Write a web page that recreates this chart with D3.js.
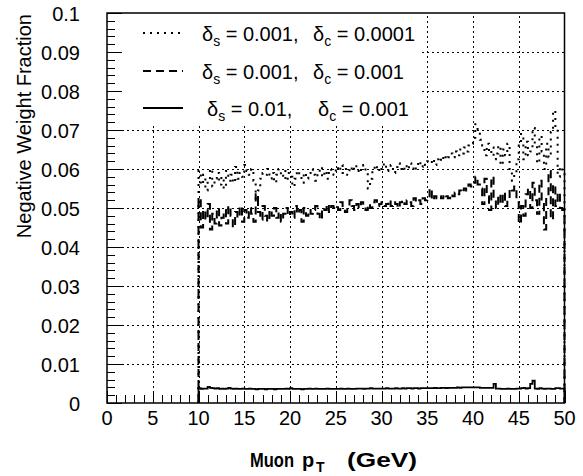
<!DOCTYPE html>
<html><head><meta charset="utf-8">
<script src="https://cdn.jsdelivr.net/npm/d3@7"></script>
<style>body{margin:0;background:#fff} text{font-family:"Liberation Sans", Arial, Helvetica, sans-serif; fill:#000}</style>
</head><body><svg id="c" width="583" height="476"></svg>
<script>
// histogram binning (GeV)
const binStart = 10, binWidth = 0.25;
// delta_s = 0.001, delta_c = 0.0001 (dotted)
const fracS001C0001 = [
.0595,.0560,.0585,.0545,.0570,.0600,.0555,.0575,.0590,.0560,
.0580,.0550,.0595,.0570,.0585,.0565,.0605,.0575,.0590,.0580,
.0610,.0595,.0585,.0600,.0570,.0520,.0545,.0575,.0590,.0585,
.0600,.0575,.0590,.0565,.0585,.0600,.0580,.0595,.0570,.0590,
.0580,.0555,.0575,.0595,.0580,.0565,.0590,.0575,.0585,.0600,
.0585,.0570,.0590,.0605,.0580,.0595,.0575,.0600,.0590,.0585,
.0605,.0595,.0610,.0590,.0600,.0585,.0605,.0595,.0610,.0600,
.0590,.0605,.0610,.0595,.0550,.0575,.0600,.0610,.0595,.0605,
.0600,.0615,.0595,.0605,.0610,.0590,.0605,.0615,.0600,.0595,
.0610,.0600,.0615,.0605,.0595,.0610,.0620,.0605,.0615,.0610,
.0620,.0615,.0625,.0610,.0625,.0630,.0620,.0635,.0625,.0630,
.0640,.0630,.0645,.0635,.0650,.0640,.0655,.0645,.0660,.0665,
.0680,.0715,.0695,.0675,.0660,.0635,.0665,.0640,.0655,.0625,
.0640,.0660,.0610,.0650,.0635,.0665,.0600,.0570,.0590,.0625,
.0660,.0690,.0625,.0670,.0635,.0645,.0705,.0660,.0615,.0685,
.0645,.0600,.0665,.0630,.0695,.0750,.0705,.0580,.0605,.0590];
// delta_s = 0.001, delta_c = 0.001 (dashed)
const fracS001C001 = [
.0525,.0450,.0495,.0470,.0510,.0445,.0485,.0460,.0500,.0455,
.0475,.0495,.0460,.0505,.0480,.0450,.0490,.0475,.0505,.0465,
.0495,.0475,.0500,.0485,.0465,.0535,.0490,.0470,.0505,.0480,
.0465,.0495,.0480,.0500,.0475,.0490,.0465,.0485,.0500,.0480,
.0490,.0475,.0505,.0485,.0495,.0465,.0500,.0480,.0495,.0485,
.0495,.0505,.0485,.0470,.0500,.0495,.0510,.0490,.0505,.0500,
.0505,.0495,.0515,.0500,.0490,.0505,.0520,.0505,.0495,.0510,
.0500,.0515,.0505,.0495,.0510,.0500,.0515,.0520,.0505,.0510,
.0515,.0505,.0510,.0520,.0505,.0515,.0510,.0500,.0515,.0520,
.0510,.0520,.0515,.0505,.0525,.0515,.0520,.0510,.0525,.0520,
.0525,.0550,.0520,.0530,.0525,.0530,.0525,.0535,.0530,.0525,
.0535,.0530,.0540,.0535,.0545,.0540,.0550,.0545,.0560,.0555,
.0565,.0580,.0560,.0550,.0510,.0575,.0530,.0495,.0580,.0520,
.0500,.0535,.0510,.0540,.0505,.0525,.0550,.0545,.0555,.0515,
.0460,.0505,.0480,.0535,.0550,.0500,.0565,.0520,.0485,.0570,
.0510,.0445,.0530,.0595,.0470,.0560,.0505,.0540,.0500,.0495];
// delta_s = 0.01, delta_c = 0.001 (solid)
const fracS01C001 = [
.0038,.0036,.0037,.0037,.0041,.0039,.0038,.0037,.0038,.0036,
.0037,.0036,.0037,.0039,.0037,.0036,.0037,.0036,.0036,.0037,
.0036,.0036,.0037,.0036,.0036,.0035,.0036,.0036,.0036,.0035,
.0036,.0036,.0036,.0035,.0036,.0036,.0036,.0036,.0037,.0036,
.0038,.0036,.0036,.0036,.0036,.0035,.0036,.0036,.0037,.0036,
.0036,.0037,.0036,.0036,.0036,.0036,.0037,.0036,.0036,.0036,
.0036,.0036,.0037,.0036,.0036,.0037,.0036,.0036,.0036,.0037,
.0037,.0037,.0036,.0037,.0037,.0038,.0037,.0037,.0037,.0037,
.0037,.0037,.0038,.0037,.0037,.0037,.0038,.0037,.0037,.0038,
.0037,.0038,.0038,.0037,.0038,.0038,.0037,.0038,.0038,.0038,
.0038,.0038,.0038,.0039,.0038,.0038,.0039,.0039,.0038,.0039,
.0039,.0039,.0039,.0040,.0039,.0040,.0040,.0040,.0040,.0040,
.0040,.0040,.0040,.0039,.0039,.0039,.0039,.0039,.0039,.0049,
.0037,.0037,.0036,.0036,.0036,.0037,.0036,.0036,.0036,.0037,
.0037,.0038,.0039,.0037,.0038,.0049,.0057,.0037,.0036,.0038,
.0037,.0036,.0037,.0037,.0036,.0036,.0038,.0038,.0037,.0037];

const xTicks = [0,5,10,15,20,25,30,35,40,45,50];
const yTicks = [0,0.01,0.02,0.03,0.04,0.05,0.06,0.07,0.08,0.09,0.1];
const yTickLabels = ["0","0.01","0.02","0.03","0.04","0.05","0.06","0.07","0.08","0.09","0.1"];
const legendDeltaS = ["0.001","0.001","0.01"];
const legendDeltaC = ["0.0001","0.001","0.001"];
const yTitle = "Negative  Weight  Fraction";

const svg = d3.select("#c");
const x = d3.scaleLinear().domain([0,50]).range([107,564.5]);
const y = d3.scaleLinear().domain([0,0.1]).range([403,13]);

// grid
const grid = svg.append("g").attr("stroke","#000").attr("stroke-width",1).attr("stroke-dasharray","2,3");
grid.selectAll("line.v").data(xTicks.slice(1,-1)).join("line")
  .attr("x1",d=>Math.round(x(d))+0.5).attr("x2",d=>Math.round(x(d))+0.5).attr("y1",y(0)).attr("y2",y(0.1));
grid.selectAll("line.h").data(yTicks.slice(1,-1)).join("line")
  .attr("y1",d=>Math.round(y(d))+0.5).attr("y2",d=>Math.round(y(d))+0.5).attr("x1",x(0)).attr("x2",x(50));

// legend background
svg.append("rect").attr("x",112).attr("y",14).attr("width",308).attr("height",110).attr("fill","#fff");

// ticks
const tk = svg.append("g").attr("stroke","#000").attr("stroke-width",1);
const xMinor = d3.range(0,51,1);
tk.selectAll("line.xt").data(xMinor).join("line")
  .attr("x1",d=>Math.round(x(d))+0.5).attr("x2",d=>Math.round(x(d))+0.5)
  .attr("y1",y(0)).attr("y2",d=>y(0)-(d%5===0?12:8));
const yMinor = d3.range(0,51,1).map(i=>i*0.002);
tk.selectAll("line.yt").data(yMinor).join("line")
  .attr("y1",d=>Math.round(y(d))+0.5).attr("y2",d=>Math.round(y(d))+0.5)
  .attr("x1",x(0)).attr("x2",(d,i)=>x(0)+(i%5===0?15:8));

// tick labels
svg.append("g").selectAll("text").data(xTicks).join("text")
  .attr("x",d=>x(d)).attr("y",425).attr("text-anchor","middle").attr("font-size",20).text(d=>d);
svg.append("g").selectAll("text").data(yTicks).join("text")
  .attr("x",80).attr("y",d=>y(d)+7.5).attr("text-anchor","end").attr("font-size",20).text((d,i)=>yTickLabels[i]);

// histograms
function stepPoints(vals){
  const pts=[[binStart,0]];
  vals.forEach((v,i)=>{pts.push([binStart+i*binWidth,v]);pts.push([binStart+(i+1)*binWidth,v]);});
  pts.push([binStart+vals.length*binWidth,0]);
  return pts;
}
const line = d3.line().x(d=>x(d[0])).y(d=>y(d[1]));
const series = [
  {vals:fracS001C0001, dash:"2,5", w:2},
  {vals:fracS001C001, dash:"8,5", w:2},
  {vals:fracS01C001, dash:null, w:1.8}
];
series.forEach(s=>{
  svg.append("path").attr("d",line(stepPoints(s.vals))).attr("fill","none").attr("stroke","#000")
    .attr("stroke-width",s.w).attr("stroke-dasharray",s.dash);
});

// frame
svg.append("rect").attr("x",x(0)).attr("y",y(0.1)).attr("width",x(50)-x(0)).attr("height",y(0)-y(0.1))
  .attr("fill","none").attr("stroke","#000").attr("stroke-width",1.5);

// legend
const legY = [33,71,108];
const lg = svg.append("g");
series.forEach((s,i)=>{
  lg.append("line").attr("x1",143).attr("x2",183).attr("y1",legY[i]).attr("y2",legY[i])
    .attr("stroke","#000").attr("stroke-width",s.w).attr("stroke-dasharray",s.dash);
  const dx = i===2?5:0;
  const t1 = lg.append("text").attr("x",202+dx).attr("y",legY[i]+8).attr("font-size",20);
  t1.append("tspan").text("δ");
  t1.append("tspan").attr("font-size",14).attr("dy",5).text("s");
  t1.append("tspan").attr("dy",-5).text(" = "+legendDeltaS[i]+",");
  const t2 = lg.append("text").attr("x",313+dx).attr("y",legY[i]+8).attr("font-size",20);
  t2.append("tspan").text("δ");
  t2.append("tspan").attr("font-size",14).attr("dy",5).text("c");
  t2.append("tspan").attr("dy",-5).text(" = "+legendDeltaC[i]);
});

// axis titles
svg.append("text").attr("transform","translate(31,14) rotate(-90)").attr("text-anchor","end")
  .attr("font-size",20).text(yTitle);
const xt = svg.append("g").attr("font-size",20).attr("font-weight","bold");
xt.append("text").attr("x",250).attr("y",467).attr("textLength",44).attr("lengthAdjust","spacingAndGlyphs").text("Muon");
xt.append("text").attr("x",302).attr("y",467).text("p");
xt.append("text").attr("x",316).attr("y",472).attr("font-size",14).text("T");
xt.append("text").attr("x",347).attr("y",467).attr("textLength",70).attr("lengthAdjust","spacingAndGlyphs").text("(GeV)");
</script></body></html>
